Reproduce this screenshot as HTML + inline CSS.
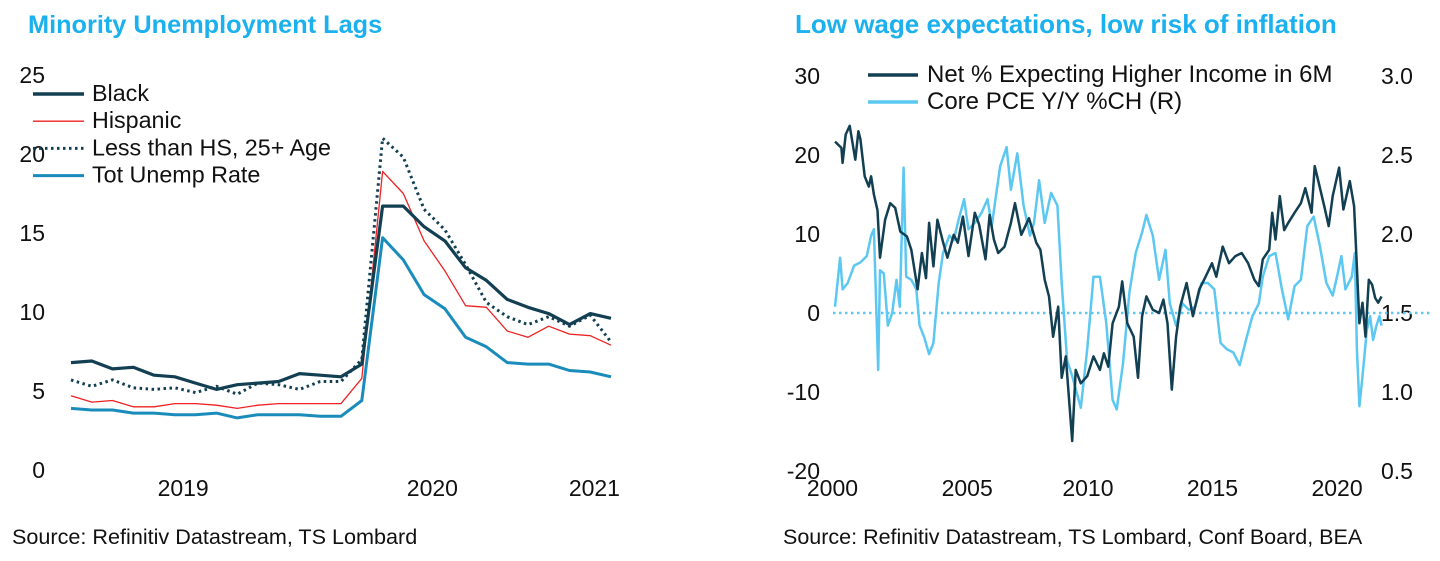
<!DOCTYPE html>
<html><head><meta charset="utf-8"><style>
html,body{margin:0;padding:0;background:#fff;}
svg{display:block;font-family:"Liberation Sans",Arial,sans-serif;}
</style></head><body>
<svg id="c" width="1440" height="561" viewBox="0 0 1440 561">
<text x="28" y="33" font-size="25.3" font-weight="bold" fill="#1bb0ee">Minority Unemployment Lags</text>
<text x="795" y="33" font-size="26" font-weight="bold" fill="#1bb0ee">Low wage expectations, low risk of inflation</text>
<text x="12" y="544" font-size="21.6" fill="#111">Source: Refinitiv Datastream, TS Lombard</text>
<text x="783" y="544" font-size="21.5" fill="#111">Source: Refinitiv Datastream, TS Lombard, Conf Board, BEA</text>
<g id="left"></g>
<g id="right"></g>
</svg>
<script>
const NS="http://www.w3.org/2000/svg";
// ---- Left chart data ----
const leftYTicks=[0,5,10,15,20,25];
const leftXLabels=["2019","2020","2021"];
const leftXLabelIdx=[5.4,17.4,25.2];
const black=[6.8,6.9,6.4,6.5,6.0,5.9,5.5,5.1,5.4,5.5,5.6,6.1,6.0,5.9,6.7,16.7,16.7,15.4,14.5,12.8,12.0,10.8,10.3,9.9,9.2,9.9,9.6];
const hispanic=[4.7,4.3,4.4,4.0,4.0,4.2,4.2,4.1,3.9,4.1,4.2,4.2,4.2,4.2,5.8,18.9,17.5,14.5,12.6,10.4,10.3,8.8,8.4,9.1,8.6,8.5,7.9];
const lessHS=[5.7,5.3,5.7,5.2,5.1,5.2,4.9,5.3,4.8,5.5,5.4,5.1,5.6,5.6,7.0,21.0,19.8,16.5,15.2,13.0,10.6,9.7,9.2,9.7,9.1,9.8,8.1];
const totUnemp=[3.9,3.8,3.8,3.6,3.6,3.5,3.5,3.6,3.3,3.5,3.5,3.5,3.4,3.4,4.4,14.7,13.3,11.1,10.2,8.4,7.8,6.8,6.7,6.7,6.3,6.2,5.9];
// ---- Right chart data ----
const rLeftTicks=[-20,-10,0,10,20,30];
const rRightTicks=[0.5,1.0,1.5,2.0,2.5,3.0];
const rXLabels=["2000","2005","2010","2015","2020"];
const rXLabelYears=[1999.9,2005.2,2009.95,2014.85,2019.75];
const netYears=[0,0.25,0.3,0.42,0.58,0.8,0.92,1,1.17,1.33,1.42,1.53,1.67,1.77,1.97,2.17,2.37,2.57,2.83,3,3.25,3.42,3.58,3.7,3.87,4.03,4.25,4.42,4.67,4.83,5.03,5.25,5.5,5.67,5.92,6.08,6.25,6.42,6.67,6.92,7.08,7.33,7.63,7.92,8.08,8.25,8.42,8.58,8.78,8.92,9.08,9.33,9.47,9.67,9.92,10.17,10.42,10.58,10.75,10.92,11.17,11.3,11.5,11.75,11.92,12.08,12.25,12.5,12.75,12.92,13.08,13.25,13.42,13.58,13.83,14.08,14.33,14.58,14.83,15,15.25,15.5,15.75,16,16.25,16.5,16.67,16.83,17.08,17.2,17.33,17.5,17.67,17.83,18.08,18.33,18.5,18.75,18.87,19.03,19.25,19.42,19.58,19.83,20,20.25,20.42,20.5,20.63,20.75,20.87,21,21.13,21.25,21.37,21.5];
const netValues=[21.7,20.9,19.0,22.6,23.7,19.4,23.0,22.0,17.3,16.0,17.3,15.0,13.0,7.0,11.8,13.9,13.3,10.3,9.7,8.0,3.0,7.6,4.4,11.4,5.9,11.8,9.0,7.0,9.9,8.9,12.2,7.2,12.7,11.2,6.8,12.4,9.3,7.6,8.4,11.4,13.9,9.9,12.0,8.9,8.0,4.2,2.1,-3.0,0.8,-8.2,-5.5,-16.2,-7.2,-8.9,-8.0,-5.5,-7.2,-5.1,-6.8,-1.3,0.8,4.0,-1.3,-3.0,-8.2,-0.4,2.1,0.4,0.0,1.7,-1.3,-9.7,-3.0,0.8,3.8,-0.4,3.0,4.6,6.3,4.6,8.4,6.3,7.2,7.6,6.3,4.2,3.4,6.8,8.0,12.7,9.3,14.8,10.5,11.4,12.7,13.9,15.8,12.7,18.6,16.5,13.5,11.0,14.8,18.4,13.1,16.7,13.5,8.0,-1.3,1.3,-3.0,4.2,3.6,1.9,1.3,2.1];
const pceYears=[0,0.2,0.3,0.5,0.75,1,1.25,1.42,1.53,1.7,1.77,1.92,2.08,2.25,2.42,2.55,2.7,2.8,3,3.2,3.33,3.5,3.7,3.87,4.08,4.25,4.5,4.67,4.83,5.08,5.25,5.5,5.75,6,6.17,6.33,6.5,6.75,6.92,7.17,7.42,7.67,7.83,8.03,8.25,8.5,8.75,8.92,9.13,9.33,9.67,9.92,10.17,10.42,10.67,10.92,11.08,11.33,11.58,11.83,12.08,12.25,12.5,12.75,13,13.17,13.42,13.67,13.92,14.17,14.42,14.67,14.92,15.17,15.42,15.67,15.92,16.17,16.42,16.67,16.83,17.08,17.33,17.58,17.83,18.08,18.33,18.58,18.83,19.08,19.33,19.58,19.75,19.92,20.08,20.33,20.45,20.53,20.63,20.75,20.92,21.05,21.17,21.3,21.42,21.5];
const pceValues=[1.54,1.85,1.65,1.69,1.80,1.82,1.86,1.99,2.03,1.14,1.77,1.75,1.42,1.50,1.71,1.54,2.42,1.73,1.71,1.65,1.42,1.35,1.24,1.31,1.69,1.88,1.99,1.96,2.07,2.22,2.03,2.07,2.13,2.22,2.05,2.24,2.43,2.55,2.28,2.51,2.18,1.99,2.07,2.34,2.07,2.26,2.18,1.69,1.20,1.10,0.90,1.27,1.73,1.73,1.44,0.95,0.89,1.18,1.63,1.88,2.01,2.12,1.99,1.71,1.90,1.56,1.42,1.56,1.52,1.54,1.69,1.69,1.65,1.31,1.27,1.25,1.17,1.33,1.48,1.56,1.73,1.86,1.88,1.65,1.46,1.67,1.71,2.05,2.11,1.92,1.69,1.61,1.73,1.86,1.65,1.73,1.88,1.27,0.91,1.10,1.39,1.48,1.33,1.42,1.48,1.42];

function mk(tag,attrs,parent){const e=document.createElementNS(NS,tag);for(const k in attrs)e.setAttribute(k,attrs[k]);parent.appendChild(e);return e;}
const L=document.getElementById('left'),R=document.getElementById('right');

// Left axes
const lx=i=>71+i*20.77;
const ly=v=>470-15.8*v;
leftYTicks.forEach(t=>{const e=mk('text',{x:45,y:ly(t)+8,'font-size':23,'text-anchor':'end',fill:'#111'},L);e.textContent=t;

});
leftXLabels.forEach((s,i)=>{const e=mk('text',{x:lx(leftXLabelIdx[i]),y:496,'font-size':23,'text-anchor':'middle',fill:'#111'},L);e.textContent=s;

});
function lline(arr,color,w,dash,name){const d=arr.map((v,i)=>(i?'L':'M')+lx(i).toFixed(1)+' '+ly(v).toFixed(1)).join(' ');
const p=mk('path',{d:d,fill:'none',stroke:color,'stroke-width':w,'stroke-linejoin':'round'},L);if(dash)p.setAttribute('stroke-dasharray',dash);

}
lline(totUnemp,'#1a8cbb',3,null,'tot-unemp-line');
lline(hispanic,'#ee2222',1.3,null,'hispanic-line');
lline(lessHS,'#123f52',3,'2.5 3.5','less-than-hs-line');
lline(black,'#123f52',3.2,null,'black-line');
const leg=[["Black","#123f52",3.5,null],["Hispanic","#ee2222",1.3,null],["Less than HS, 25+ Age","#123f52",3,"2.5 3.5"],["Tot Unemp Rate","#1a8cbb",3,null]];
leg.forEach((g,i)=>{const y=94+i*27.2;const l=mk('line',{x1:33,x2:84,y1:y,y2:y,stroke:g[1],'stroke-width':g[2]},L);if(g[3])l.setAttribute('stroke-dasharray',g[3]);


const t=mk('text',{x:92,y:y+7,'font-size':23.3,fill:'#111'},L);t.textContent=g[0];

});

// Right axes
const rx=yr=>835+yr*25.42;
const ryL=v=>313-7.9*v;
const ryR=r=>313-(r-1.5)*158;
rLeftTicks.forEach(t=>{const e=mk('text',{x:820,y:ryL(t)+8,'font-size':23,'text-anchor':'end',fill:'#111'},R);e.textContent=t;

});
rRightTicks.forEach(t=>{const e=mk('text',{x:1381,y:ryR(t)+8,'font-size':23,fill:'#111'},R);e.textContent=t.toFixed(1);

});
rXLabels.forEach((s,i)=>{const e=mk('text',{x:rx(rXLabelYears[i]-2000),y:496,'font-size':23,'text-anchor':'middle',fill:'#111'},R);e.textContent=s;

});
const z=mk('line',{x1:833,x2:1432,y1:ryL(0),y2:ryL(0),stroke:'#5cc8f2','stroke-width':2.5,'stroke-dasharray':'2.5 3.5'},R);


const pd=pceYears.map((y,i)=>(i?'L':'M')+rx(y).toFixed(1)+' '+ryR(pceValues[i]).toFixed(1)).join(' ');
const pp=mk('path',{d:pd,fill:'none',stroke:'#5cc8f2','stroke-width':2.5,'stroke-linejoin':'round'},R);


const nd=netYears.map((y,i)=>(i?'L':'M')+rx(y).toFixed(1)+' '+ryL(netValues[i]).toFixed(1)).join(' ');
const np=mk('path',{d:nd,fill:'none',stroke:'#123f52','stroke-width':2.5,'stroke-linejoin':'round'},R);


const rleg=[["Net % Expecting Higher Income in 6M","#123f52"],["Core PCE Y/Y %CH (R)","#5cc8f2"]];
rleg.forEach((g,i)=>{const y=75+i*27;const l=mk('line',{x1:868,x2:918,y1:y,y2:y,stroke:g[1],'stroke-width':3.5},R);


const t=mk('text',{x:927,y:y+7,'font-size':24,fill:'#111'},R);t.textContent=g[0];

});
</script>
</body></html>
